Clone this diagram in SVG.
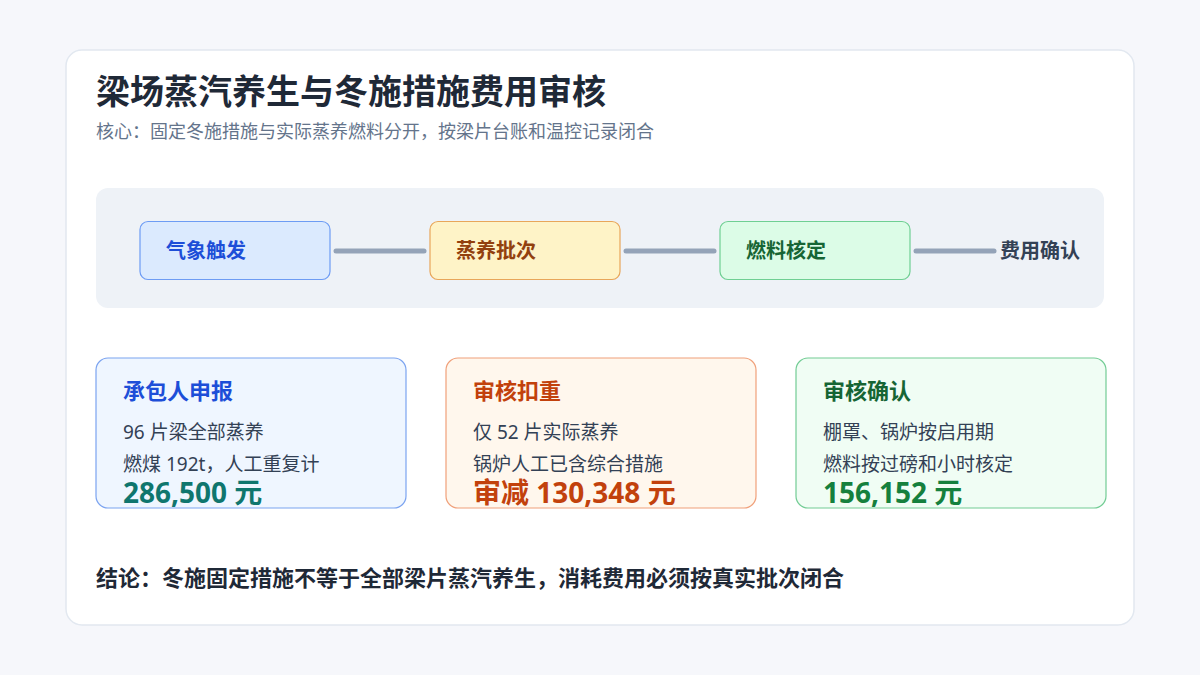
<svg xmlns="http://www.w3.org/2000/svg" width="1200" height="675" viewBox="0 0 1200 675">
<style>
text{font-family:"Noto Sans","Noto Sans CJK SC",sans-serif}
.t{font-size:34px;font-weight:700;fill:#1f2937}
.sub{font-size:18px;fill:#64748b}
.nl{font-size:20px;font-weight:700}
.ct{font-size:22px;font-weight:700}
.cl{font-size:19px;fill:#334155}
.amt{font-size:28px;font-weight:700}
.con{stroke:#94a3b8;stroke-width:5;stroke-linecap:round;fill:none}
</style>
<rect width="1200" height="675" fill="#f6f7fb"/>
<rect x="66" y="50" width="1068" height="575" rx="16" fill="#ffffff" stroke="#e2e8f0" stroke-width="1.5"/>
<text class="t" x="96" y="104">梁场蒸汽养生与冬施措施费用审核</text>
<text class="sub" x="96" y="138">核心：固定冬施措施与实际蒸养燃料分开，按梁片台账和温控记录闭合</text>
<rect x="96" y="188" width="1008" height="120" rx="12" fill="#eef2f7"/>
<g id="connectors">
<line class="con" x1="336" y1="251" x2="424" y2="251"/>
<line class="con" x1="626" y1="251" x2="714" y2="251"/>
<line class="con" x1="916" y1="251" x2="994" y2="251"/>
</g>
<g id="n1">
<rect x="140" y="221.5" width="190" height="58" rx="8" fill="#dbeafe" stroke="#6d9cf4" stroke-width="1.2"/>
<text class="nl" x="166" y="258" fill="#1d4ed8">气象触发</text>
</g>
<g id="n2">
<rect x="430" y="221.5" width="190" height="58" rx="8" fill="#fef3c7" stroke="#e8a65a" stroke-width="1.2"/>
<text class="nl" x="456" y="258" fill="#92400e">蒸养批次</text>
</g>
<g id="n3">
<rect x="720" y="221.5" width="190" height="58" rx="8" fill="#dcfce7" stroke="#6fcf93" stroke-width="1.2"/>
<text class="nl" x="746" y="258" fill="#166534">燃料核定</text>
</g>
<g id="n4">
<text class="nl" x="1000" y="258" fill="#334155">费用确认</text>
</g>
<g id="c1">
<rect x="96" y="358" width="310" height="150" rx="12" fill="#eff6ff" stroke="#7ba3f0" stroke-width="1.2"/>
<text class="ct" x="123" y="399" fill="#1d4ed8">承包人申报</text>
<text class="cl" x="123" y="439">96 片梁全部蒸养</text>
<text class="cl" x="123" y="471">燃煤 192t，人工重复计</text>
<text class="amt" x="123" y="503" fill="#0f766e">286,500 元</text>
</g>
<g id="c2">
<rect x="446" y="358" width="310" height="150" rx="12" fill="#fff7ed" stroke="#f0a07a" stroke-width="1.2"/>
<text class="ct" x="473" y="399" fill="#c2410c">审核扣重</text>
<text class="cl" x="473" y="439">仅 52 片实际蒸养</text>
<text class="cl" x="473" y="471">锅炉人工已含综合措施</text>
<text class="amt" x="473" y="503" fill="#c2410c">审减 130,348 元</text>
</g>
<g id="c3">
<rect x="796" y="358" width="310" height="150" rx="12" fill="#f0fdf4" stroke="#72cc94" stroke-width="1.2"/>
<text class="ct" x="823" y="399" fill="#166534">审核确认</text>
<text class="cl" x="823" y="439">棚罩、锅炉按启用期</text>
<text class="cl" x="823" y="471">燃料按过磅和小时核定</text>
<text class="amt" x="823" y="503" fill="#15803d">156,152 元</text>
</g>
<text x="96" y="586" font-size="22" font-weight="700" fill="#1f2937">结论：冬施固定措施不等于全部梁片蒸汽养生，消耗费用必须按真实批次闭合</text>
</svg>
